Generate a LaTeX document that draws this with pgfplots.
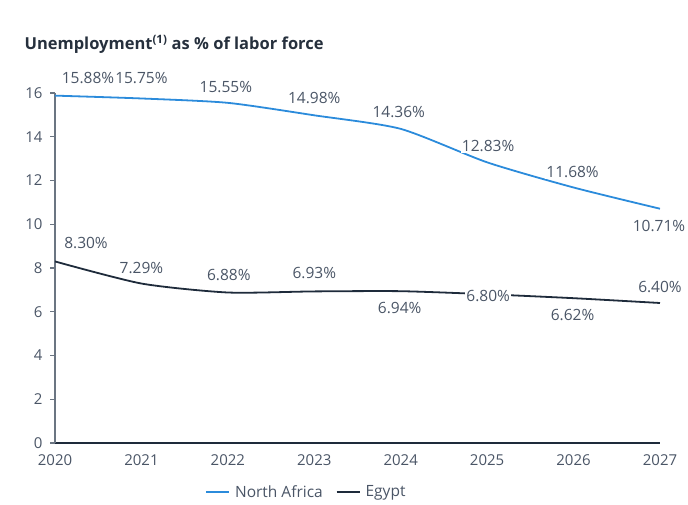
\documentclass[border=0pt]{standalone}
\usepackage{pgfplots}
\pgfplotsset{compat=1.18}
\usepackage{pgfplotstable}
\usepackage{fontspec}
\setmainfont{Open Sans}
\definecolor{nablue}{HTML}{2B8BDB}
\definecolor{egnavy}{HTML}{1E2B3B}
\definecolor{lblgray}{HTML}{4A5566}
\definecolor{axgray}{HTML}{6B7582}
\definecolor{titlecol}{HTML}{26303D}

\pgfplotstableread{
x y dx dy
2020 15.88 33 17.5
2021 15.75 0 20.5
2022 15.55 -2 16
2023 14.98 0 17
2024 14.36 -2 17
2025 12.83 1 16
2026 11.68 -1 15.5
2027 10.71 -1 -17
}\na

\pgfplotstableread{
x y dx dy
2020 8.30 31 18
2021 7.29 0 15.5
2022 6.88 1 17.5
2023 6.93 0 18
2024 6.94 -1 -17
2025 6.80 1 -2
2026 6.62 -1 -17
2027 6.40 0 16
}\eg

\pgfplotsset{lbls/.style={draw=none, forget plot,
  nodes near coords={\pgfmathprintnumber[fixed, fixed zerofill, precision=2]{\pgfplotspointmeta}\%},
  point meta=y,
  visualization depends on={\thisrow{dx}\as\myDX},
  visualization depends on={\thisrow{dy}\as\myDY},
  every node near coord/.append style={anchor=center, xshift=\myDX pt, yshift=\myDY pt, fill=white, inner sep=1pt, font=\fontsize{15.5}{17}\selectfont, text=lblgray}}}

\begin{document}
\begin{tikzpicture}
\useasboundingbox (-55pt,-61pt) rectangle (633pt,443pt);
\begin{axis}[
  at={(0,0)}, anchor=south west,
  scale only axis, width=605pt, height=350pt,
  xmin=2020, xmax=2027, ymin=0, ymax=16,
  clip=false,
  axis lines*=left,
  x axis line style={egnavy, line width=1.3pt},
  y axis line style={axgray, line width=1.5pt},
  xtick={2020,2021,...,2027}, ytick={0,2,...,16},
  /pgf/number format/assume math mode=true,
  x tick label style={/pgf/number format/1000 sep={}, yshift=-3pt},
  y tick label style={xshift=-4pt},
  tick label style={font=\fontsize{15}{17}\selectfont, text=lblgray},
  major x tick style={draw=none},
  major y tick style={axgray, line width=1.2pt},
  tick align=outside, major tick length=5pt,
  legend style={at={(0.418,-0.14)}, anchor=center, draw=none, fill=none,
    legend columns=2, font=\fontsize{15.5}{17}\selectfont, text=lblgray,
    nodes={inner xsep=5pt},
    /tikz/every even column/.append style={column sep=8pt}},
  legend image code/.code={\draw[#1] (0pt,0pt) -- (23pt,0pt);},
]
\addplot[nablue, line width=1.8pt, smooth, tension=0.4] table[x=x,y=y]{\na};
\addlegendentry{North Africa}
\addplot[egnavy, line width=1.8pt, smooth, tension=0.4] table[x=x,y=y]{\eg};
\addlegendentry{Egypt}
\addplot[lbls] table[x=x,y=y]{\na};
\addplot[lbls] table[x=x,y=y]{\eg};
\end{axis}
\node[anchor=west, font=\bfseries\fontsize{16.5}{19}\selectfont, text=titlecol] at (-34pt,399pt) {Unemployment\textsuperscript{(1)} as \% of labor force};
\end{tikzpicture}
\end{document}
